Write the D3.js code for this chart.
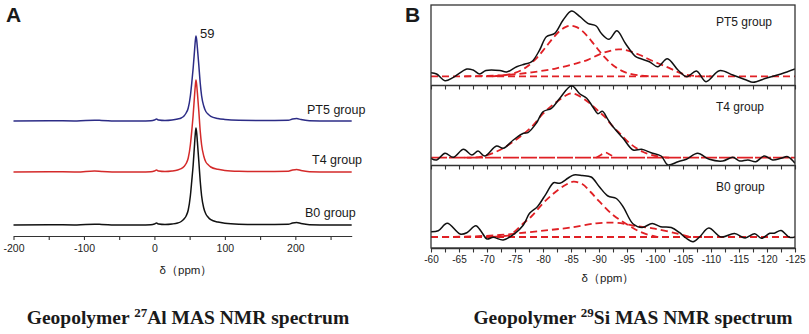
<!DOCTYPE html>
<html>
<head>
<meta charset="utf-8">
<script src="https://cdn.jsdelivr.net/npm/d3@7"></script>
<style>
  body { margin: 0; background: #fff; }
  svg { display: block; }
  text { font-family: "Liberation Sans", Arial, sans-serif; fill: #1a1a1a; }
</style>
</head>
<body>
<svg id="chart" width="809" height="334"></svg>
<script>
// ---- panel A: 27Al spectra (ppm, intensity above own baseline) ----
const alPpm = [-200,-150,-110,-85,-75,-50,-20,-5,0,3,6,15,25,33,38,42,45,48,51,53,55,57,58,59,60,61,63,65,67,70,73,76,80,90,100,120,150,190,196,202,208,220,250,280];
const alB0  = [0,0.3,0,0.8,0.6,0,0,0.3,1,2,1,0.5,1,2,3.5,6,9,15,29,44,60,81,91,97,92,83,64,44,29,17,11,8,5.3,2.9,1.7,0.8,0.5,0.7,2,2.5,1.5,0.3,0,0];
const alT4  = [0,0.3,0,1,0.6,0,0,0.3,1,2,1,0.5,1,2,3.3,5.5,8.5,14,27,41,57,77,86,92,87,79,61,41,27,16,10,7.5,5,2.7,1.6,0.8,0.5,0.8,2,2.6,1.5,0.3,0,0];
const alPT5 = [0,0.3,0,0.8,0.6,0,0,0.3,1,2,1,0.5,1,2,3,5,8,13,25,38,53,71,80,85,81,73,56,38,25,15,9.5,7,4.7,2.5,1.5,0.7,0.5,0.7,2,2.5,1.4,0.3,0,0];
const alGroups = ["B0 group", "T4 group", "PT5 group"];
const alOffsets = [0, 53, 104];
const alColors = ["#111111", "#d42a2a", "#2c2c86"];
const alTicks = [-200,-150,-100,-50,0,50,100,150,200,250];
const alPeakLabel = 59;

// ---- panel B: 29Si spectra, black = measured, red dashed = fitted components ----
const siTicks = [-60,-65,-70,-75,-80,-85,-90,-95,-100,-105,-110,-115,-120,-125];
const siMinor = [-62.5,-67.5,-72.5,-77.5,-82.5,-87.5,-92.5,-97.5,-102.5,-107.5,-112.5,-117.5,-122.5];
const siGroups = ["PT5 group", "T4 group", "B0 group"];

const siPT5 = [[-60,3.6],[-61,2.3],[-62.5,-4.4],[-64,-1],[-66.4,7.3],[-67.5,6.3],[-68.7,2.3],[-69.8,5.8],[-72.3,5.8],[-73.5,4.3],[-75.3,9.6],[-76.8,12.3],[-78,14.6],[-79.4,26.3],[-80.6,39.6],[-82.1,43],[-83.6,56.3],[-85.1,65.3],[-86.6,59.6],[-88,53],[-89.5,50.3],[-90.4,43],[-91.8,37],[-93.2,45.5],[-94.7,33],[-96.5,20],[-97.5,17.5],[-99,14.6],[-100.5,9.6],[-102.2,17.5],[-104.1,6.3],[-105.7,-0.4],[-107.4,5.3],[-109.1,-5.4],[-111.5,5.6],[-113.9,1.3],[-116.3,-3.7],[-117.5,-6],[-119.8,-2],[-122.5,2.3],[-125,7.3]];
const siPT5FitA = [[-71,0],[-73,1],[-75,3.4],[-77,9],[-79,19],[-80,25.7],[-81,32.8],[-82,39.7],[-83,45.4],[-84,49.2],[-85,50.6],[-86,49.2],[-87,45.4],[-88,39.7],[-89,32.8],[-90,25.7],[-91,19.1],[-92,13.5],[-93,9],[-94,5.7],[-95,3.4],[-97,1],[-99,0]];
const siPT5FitB = [[-66,0],[-70,0.5],[-74,1.5],[-78,4],[-82.4,8],[-86,13],[-88,16.5],[-90.1,22],[-92,25.5],[-93.5,27],[-95,26],[-97.3,21.3],[-99.5,15.5],[-102,9.6],[-104,4.5],[-105.6,1.5],[-108,0],[-110,0]];

const siT4 = [[-60,-0.6],[-61,-2.3],[-62.5,4.4],[-64,0.4],[-65.8,8.4],[-67.3,2.7],[-68.4,6.7],[-69.6,1.7],[-71.7,11.7],[-72.9,9.4],[-74.7,17.7],[-76.5,24.4],[-77.3,25],[-78.8,34.4],[-80,46],[-81.5,49.4],[-83,59.4],[-85.1,72],[-86.6,63.7],[-87.8,59.4],[-89,50],[-89.8,44],[-90.6,46.5],[-91.5,39],[-92.5,31],[-94.3,19.4],[-96.1,7.7],[-97.6,8.4],[-99.3,5],[-101.1,1.7],[-102.3,-7.3],[-104.1,-4],[-105.6,-1.6],[-107.6,4.4],[-109.7,-1.6],[-112.1,-3.3],[-113.9,0.4],[-115.1,-3.3],[-116.6,-2.3],[-118,-4],[-119.5,1.7],[-121,-2.3],[-122.5,-0.6],[-123.7,1],[-125,-5.6]];
const siT4FitA = [[-66,0],[-69,1],[-72.3,7.7],[-75.9,21],[-78,31],[-80,44],[-82,54],[-84,62],[-85,64.4],[-86,63],[-88,56],[-90,46],[-91,41],[-92.5,31],[-93.7,24.4],[-95.5,14.4],[-97.8,6],[-100.8,1],[-103,0]];
const siT4FitB = [[-89.5,0],[-90.4,3],[-91.2,5],[-92,3],[-93,0]];

const siB0 = [[-60,5.3],[-61.3,6.3],[-62.9,13.7],[-65.2,3],[-66.4,4.3],[-68,11.3],[-69,5.3],[-70,-2],[-71.1,-0.3],[-72.9,-3],[-75,3.7],[-76.5,12],[-77.6,23.7],[-79,30.3],[-80.6,43.7],[-81.9,54.3],[-83,53.7],[-84.5,59],[-85.5,62],[-87,61.5],[-88.6,60],[-90.1,50],[-91.6,41],[-93.1,38.5],[-94.3,30.3],[-96.1,13],[-97.7,9.5],[-99.5,13.5],[-101,10.3],[-102.9,9.5],[-104.4,4.3],[-105.5,-1],[-106.8,-4.7],[-108,0.3],[-109.6,9],[-111.8,0],[-114.2,3.5],[-116.1,-1],[-117.8,3.3],[-119,-1.3],[-120.5,3.7],[-121.3,3.7],[-122.5,6.5],[-124,-0.3],[-125,0]];
const siB0FitA = [[-71,0],[-73,1],[-74.1,2],[-76.5,13.7],[-78,21],[-80,33.7],[-82,44],[-84,52],[-85.4,55.3],[-87,53],[-88.5,45],[-90.1,35.3],[-92.5,22],[-94.9,13],[-97.3,5.3],[-100.2,0.3],[-102,0]];
const siB0FitB = [[-62,0],[-67,0.5],[-72.3,2],[-77,4.5],[-81.2,7],[-85,9.5],[-89.5,13.7],[-92.5,14.3],[-94.5,13.2],[-96.1,11.3],[-99.6,8.7],[-103.8,3.7],[-106.2,0.3],[-108,0],[-110,0]];

const siSeries = [
  { measured: siPT5, fits: [siPT5FitA, siPT5FitB] },
  { measured: siT4,  fits: [siT4FitA, siT4FitB] },
  { measured: siB0,  fits: [siB0FitA, siB0FitB] }
];

const svg = d3.select("#chart");
const red = "#e02025";

// ================= Panel A =================
const xA = d3.scaleLinear().domain([-200, 280]).range([13.5, 351.7]);
const yA = d3.scaleLinear().domain([0, 220]).range([225, 5]);
const axisYA = 236;

const alSeries = [alB0, alT4, alPT5];
const lineA = d3.line().curve(d3.curveMonotoneX);

alSeries.forEach((vals, i) => {
  svg.append("path")
    .attr("d", lineA(alPpm.map((p, j) => [xA(p), yA(vals[j] + alOffsets[i])])))
    .attr("fill", "none")
    .attr("stroke", alColors[i])
    .attr("stroke-width", 1.5);
});

svg.append("g")
  .attr("transform", `translate(0,${axisYA})`)
  .call(d3.axisBottom(xA).tickValues(alTicks).tickSize(4).tickSizeOuter(0)
    .tickFormat(d => d % 100 === 0 ? d : ""))
  .call(g => g.select(".domain").attr("stroke", "#333").attr("stroke-width", 1.2))
  .call(g => g.selectAll(".tick line").attr("stroke", "#333").attr("stroke-width", 1.1))
  .selectAll("text")
  .attr("dy", "0.9em")
  .style("font-family", "Liberation Sans, Arial, sans-serif")
  .style("font-size", "10.5px")
  .style("fill", "#222");

// group labels A
const alLabelPos = [[305, 217], [312, 164], [307, 114]];
alGroups.forEach((g, i) => {
  svg.append("text")
    .attr("x", alLabelPos[i][0])
    .attr("y", alLabelPos[i][1])
    .style("font-size", "12.5px")
    .text(g);
});

svg.append("text")
  .attr("x", xA(alPeakLabel) + 4)
  .attr("y", 38)
  .style("font-size", "13px")
  .text(alPeakLabel);

svg.append("text")
  .attr("x", 186)
  .attr("y", 274)
  .attr("text-anchor", "middle")
  .style("font-size", "11.5px")
  .text("δ（ppm）");

svg.append("text")
  .attr("x", 6)
  .attr("y", 22)
  .style("font-size", "21px")
  .style("font-weight", "bold")
  .text("A");

// ================= Panel B =================
const xB = d3.scaleLinear().domain([-60, -125]).range([431, 795]);
const siPanels = [
  { top: 5,   bottom: 85,  base: 76.3 },
  { top: 85,  bottom: 165, base: 157.7 },
  { top: 165, bottom: 248, base: 237 }
];
const lineB = d3.line().curve(d3.curveCatmullRom.alpha(0.5));

siSeries.forEach((s, i) => {
  const p = siPanels[i];
  const yB = d3.scaleLinear()
    .domain([p.base - p.bottom, p.base - p.top])
    .range([p.bottom, p.top]);

  const clipId = "clipB" + i;
  svg.append("clipPath").attr("id", clipId)
    .append("rect")
    .attr("x", 431).attr("y", p.top - 1)
    .attr("width", 364).attr("height", p.bottom - p.top + 1);

  const g = svg.append("g").attr("clip-path", `url(#${clipId})`);

  // baseline of the fit
  g.append("line")
    .attr("x1", xB(-60)).attr("x2", xB(-125))
    .attr("y1", yB(0)).attr("y2", yB(0))
    .attr("stroke", red)
    .attr("stroke-width", 1.8)
    .attr("stroke-dasharray", i === 1 ? "16,2" : "7,4");

  s.fits.forEach(f => {
    g.append("path")
      .attr("d", lineB(f.map(d => [xB(d[0]), yB(d[1])])))
      .attr("fill", "none")
      .attr("stroke", red)
      .attr("stroke-width", 1.8)
      .attr("stroke-dasharray", "7,4");
  });

  g.append("path")
    .attr("d", lineB(s.measured.map(d => [xB(d[0]), yB(d[1])])))
    .attr("fill", "none")
    .attr("stroke", "#111")
    .attr("stroke-width", 1.5);

  svg.append("g")
    .attr("transform", `translate(0,${p.bottom})`)
    .call(d3.axisBottom(xB).tickValues(siTicks.concat(siMinor)).tickSize(4.5).tickSizeOuter(0)
      .tickFormat(d => (i === 2 && siTicks.includes(d)) ? d : ""))
    .call(g => g.select(".domain").attr("stroke", "#333").attr("stroke-width", 1.3))
    .call(g => g.selectAll(".tick line").attr("stroke", "#333").attr("stroke-width", 1.1))
    .selectAll("text")
    .attr("dy", "0.75em")
    .style("font-family", "Liberation Sans, Arial, sans-serif")
    .style("font-size", "10px")
    .style("fill", "#222");

  svg.append("text")
    .attr("x", 716)
    .attr("y", p.top + (i === 0 ? 21 : 26))
    .style("font-size", "12px")
    .text(siGroups[i]);
});

// frame B
svg.append("rect")
  .attr("x", 431).attr("y", 5)
  .attr("width", 364).attr("height", 243)
  .attr("fill", "none")
  .attr("stroke", "#333")
  .attr("stroke-width", 1.3);

svg.append("text")
  .attr("x", 608)
  .attr("y", 282)
  .attr("text-anchor", "middle")
  .style("font-size", "11.5px")
  .text("δ（ppm）");

svg.append("text")
  .attr("x", 405)
  .attr("y", 22)
  .style("font-size", "21px")
  .style("font-weight", "bold")
  .text("B");

// ================= titles =================
function title(x, iso, el) {
  const t = svg.append("text")
    .attr("x", x)
    .attr("y", 324)
    .attr("text-anchor", "middle")
    .style("font-family", "Liberation Serif, Times New Roman, serif")
    .style("font-weight", "bold")
    .style("font-size", "19.5px");
  t.append("tspan").text("Geopolymer ");
  t.append("tspan").attr("dy", -7).style("font-size", "13px").text(iso);
  t.append("tspan").attr("dy", 7).text(el + " MAS NMR spectrum");
}
title(188, "27", "Al");
title(633, "29", "Si");
</script>
</body>
</html>
